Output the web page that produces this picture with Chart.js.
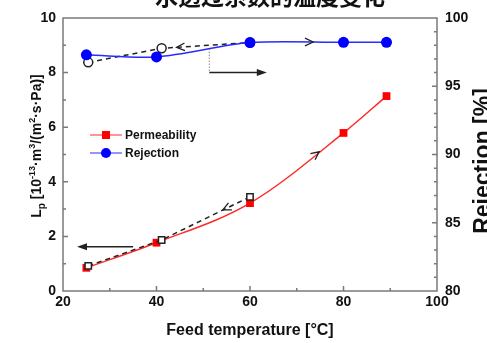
<!DOCTYPE html>
<html>
<head>
<meta charset="utf-8">
<script src="https://cdn.jsdelivr.net/npm/chart.js@4.4.1/dist/chart.umd.min.js"></script>
<style>
  body { margin: 0; background: #fff; }
</style>
</head>
<body>
<canvas id="lpChart" width="487" height="343"></canvas>
<script>
// values
const temperature = [25, 40, 60, 80, 89.2];
const permeability = [0.85, 1.77, 3.22, 5.79, 7.14];
const rejection = [97.3, 97.15, 98.2, 98.22, 98.22];
const coolingTemp = [25.4, 41.1, 60];
const coolingPermeability = [0.92, 1.87, 3.45];
const coolingRejection = [96.75, 97.78, 98.2];
const xTicks = [20, 40, 60, 80, 100];
const lpTicks = [0, 2, 4, 6, 8, 10];
const rejTicks = [80, 85, 90, 95, 100];

const titleText = "水透过系数的温度变化";
const xTitle = "Feed temperature [°C]";
const rightTitle = "Rejection [%]";

const FONT = "Arial, 'Liberation Sans', sans-serif";
const FRAME = "#7a7a7a";

const toPoints = (xs, ys) => xs.map((x, i) => ({ x: x, y: ys[i] }));

// annotation arrows, in data units
const solidArrows = [
  { axis: "y", from: [35, 1.62], to: [23, 1.62] },
  { axis: "y2", from: [51.3, 96.0], to: [63.6, 96.0] },
];
const chevrons = [
  { axis: "y2", at: [73.5, 98.24], toward: [80, 98.24] },
  { axis: "y2", at: [44.3, 97.85], toward: [41.1, 97.78] },
  { axis: "y", at: [74.8, 5.1], toward: [80, 5.79] },
  { axis: "y", at: [54.2, 2.97], toward: [41.1, 1.87] },
];

const fixSize = (prop, size) => (scale) => { scale[prop] = size; };

function drawRich(ctx, parts, x, y) {
  // parts drawn left to right, centered on x
  let total = 0;
  parts.forEach((p) => {
    ctx.font = "bold " + p.size + "px " + FONT;
    p.w = ctx.measureText(p.text).width;
    total += p.w;
  });
  let cx = x - total / 2;
  ctx.textAlign = "left";
  ctx.textBaseline = "alphabetic";
  parts.forEach((p) => {
    ctx.font = "bold " + p.size + "px " + FONT;
    ctx.fillText(p.text, cx, y + (p.dy || 0));
    cx += p.w;
  });
}

const decor = {
  id: "decor",
  beforeDatasetsDraw(chart) {
    const { ctx, chartArea: a, scales } = chart;
    ctx.save();
    ctx.strokeStyle = FRAME;
    ctx.lineWidth = 1.5;
    ctx.strokeRect(a.left, a.top, a.right - a.left, a.bottom - a.top);
    ctx.beginPath();
    for (let v = 30; v < 100; v += 10) {
      const px = scales.x.getPixelForValue(v);
      const len = v % 20 === 0 ? 5 : 3;
      ctx.moveTo(px, a.bottom);
      ctx.lineTo(px, a.bottom - len);
    }
    for (let v = 1; v < 10; v++) {
      const py = scales.y.getPixelForValue(v);
      const len = v % 2 === 0 ? 5 : 3;
      ctx.moveTo(a.left, py);
      ctx.lineTo(a.left + len, py);
    }
    for (let v = 81; v < 100; v++) {
      const py = scales.y2.getPixelForValue(v);
      const len = v % 5 === 0 ? 5 : 3;
      ctx.moveTo(a.right, py);
      ctx.lineTo(a.right - len, py);
    }
    ctx.stroke();
    ctx.restore();
  },
  afterDraw(chart) {
    const { ctx, chartArea: a, scales } = chart;
    const px = (axis, p) => [scales.x.getPixelForValue(p[0]), scales[axis].getPixelForValue(p[1])];
    ctx.save();

    // dotted guide down from the rejection curve
    const d0 = px("y2", [51.3, 97.75]);
    const d1 = px("y2", [51.3, 96.0]);
    ctx.strokeStyle = "#555";
    ctx.lineWidth = 1;
    ctx.setLineDash([1, 2]);
    ctx.beginPath();
    ctx.moveTo(d0[0], d0[1]);
    ctx.lineTo(d1[0], d1[1]);
    ctx.stroke();
    ctx.setLineDash([]);

    // solid arrows pointing to the axis used
    solidArrows.forEach((ar) => {
      const f = px(ar.axis, ar.from);
      const t = px(ar.axis, ar.to);
      const ang = Math.atan2(t[1] - f[1], t[0] - f[0]);
      ctx.strokeStyle = "#222";
      ctx.fillStyle = "#222";
      ctx.lineWidth = 1.5;
      ctx.beginPath();
      ctx.moveTo(f[0], f[1]);
      ctx.lineTo(t[0] - 6 * Math.cos(ang), t[1] - 6 * Math.sin(ang));
      ctx.stroke();
      ctx.beginPath();
      ctx.moveTo(t[0], t[1]);
      ctx.lineTo(t[0] - 10 * Math.cos(ang) - 3.5 * Math.sin(ang), t[1] - 10 * Math.sin(ang) + 3.5 * Math.cos(ang));
      ctx.lineTo(t[0] - 10 * Math.cos(ang) + 3.5 * Math.sin(ang), t[1] - 10 * Math.sin(ang) - 3.5 * Math.cos(ang));
      ctx.closePath();
      ctx.fill();
    });

    // open arrowheads along the curves
    chevrons.forEach((c) => {
      const p = px(c.axis, c.at);
      const q = px(c.axis, c.toward);
      const ang = Math.atan2(q[1] - p[1], q[0] - p[0]);
      ctx.strokeStyle = "#222";
      ctx.lineWidth = 1.3;
      ctx.beginPath();
      ctx.moveTo(p[0] + 9 * Math.cos(ang + 2.7), p[1] + 9 * Math.sin(ang + 2.7));
      ctx.lineTo(p[0], p[1]);
      ctx.lineTo(p[0] + 9 * Math.cos(ang - 2.7), p[1] + 9 * Math.sin(ang - 2.7));
      ctx.stroke();
    });

    // legend inside the plot
    const entries = chart.data.datasets.filter((ds) => ds.inLegend);
    entries.forEach((ds, i) => {
      const y = 135 + i * 18;
      ctx.strokeStyle = ds.legendLine;
      ctx.lineWidth = 1.5;
      ctx.beginPath();
      ctx.moveTo(90, y);
      ctx.lineTo(122, y);
      ctx.stroke();
      ctx.fillStyle = ds.pointBackgroundColor;
      ctx.beginPath();
      if (ds.pointStyle === "rect") ctx.rect(102, y - 4, 8, 8);
      else ctx.arc(106, y, 5, 0, Math.PI * 2);
      ctx.fill();
      ctx.fillStyle = "#111";
      ctx.font = "bold 12px " + FONT;
      ctx.textAlign = "left";
      ctx.textBaseline = "middle";
      ctx.fillText(ds.label, 125, y + 1);
    });

    // titles
    ctx.fillStyle = "#111";
    ctx.font = "bold 16px " + FONT;
    ctx.textAlign = "center";
    ctx.textBaseline = "middle";
    ctx.fillText(xTitle, (a.left + a.right) / 2, 331);

    ctx.save();
    ctx.translate(41, 146);
    ctx.rotate(-Math.PI / 2);
    drawRich(ctx, [
      { text: "L", size: 14 },
      { text: "p", size: 10, dy: 4 },
      { text: " [10", size: 14 },
      { text: "-13", size: 9, dy: -6 },
      { text: "·m", size: 14 },
      { text: "3", size: 9, dy: -6 },
      { text: "/(m", size: 14 },
      { text: "2", size: 9, dy: -6 },
      { text: "·s·Pa)]", size: 14 },
    ], 0, 0);
    ctx.restore();

    ctx.save();
    ctx.translate(490, 161);
    ctx.rotate(-Math.PI / 2);
    ctx.font = "bold 23px " + FONT;
    ctx.textAlign = "center";
    ctx.textBaseline = "alphabetic";
    ctx.fillText(rightTitle, 0, 0);
    ctx.restore();

    ctx.font = "bold 23px 'Noto Sans CJK SC', sans-serif";
    ctx.textAlign = "center";
    ctx.textBaseline = "ideographic";
    ctx.fillText(titleText, 270, 8);

    ctx.restore();
  },
};

const tickFont = { family: FONT, size: 14, weight: "bold" };

new Chart(document.getElementById("lpChart").getContext("2d"), {
  type: "scatter",
  data: {
    datasets: [
      {
        label: "Cooling Lp",
        data: toPoints(coolingTemp, coolingPermeability),
        yAxisID: "y",
        showLine: true,
        borderColor: "#222",
        borderWidth: 1.5,
        borderDash: [5, 4],
        pointStyle: "rect",
        pointRadius: 4.5,
        pointBackgroundColor: "#fff",
        pointBorderColor: "#222",
        pointBorderWidth: 1.5,
        order: 0,
      },
      {
        label: "Permeability",
        inLegend: true,
        legendLine: "#ff7070",
        data: toPoints(temperature, permeability),
        yAxisID: "y",
        showLine: true,
        cubicInterpolationMode: "monotone",
        borderColor: "#ff2a2a",
        borderWidth: 1.5,
        pointStyle: "rect",
        pointRadius: 5.5,
        pointBackgroundColor: "#ff0000",
        pointBorderColor: "#ff0000",
        pointBorderWidth: 0,
        order: 1,
      },
      {
        label: "Rejection",
        inLegend: true,
        legendLine: "#7070ff",
        data: toPoints(temperature, rejection),
        yAxisID: "y2",
        showLine: true,
        tension: 0.3,
        borderColor: "#2a2aff",
        borderWidth: 1.5,
        pointStyle: "circle",
        pointRadius: 5.5,
        pointBackgroundColor: "#0000ff",
        pointBorderColor: "#0000ff",
        pointBorderWidth: 0,
        order: 2,
      },
      {
        label: "Cooling rejection",
        data: toPoints(coolingTemp, coolingRejection),
        yAxisID: "y2",
        showLine: true,
        borderColor: "#222",
        borderWidth: 1.5,
        borderDash: [5, 4],
        pointStyle: "circle",
        pointRadius: 4.5,
        pointBackgroundColor: "#fff",
        pointBorderColor: "#222",
        pointBorderWidth: 1.5,
        order: 3,
      },
    ],
  },
  options: {
    responsive: false,
    animation: false,
    layout: { padding: { top: 18, left: 0, right: 0, bottom: 0 } },
    plugins: { legend: { display: false }, tooltip: { enabled: false } },
    scales: {
      x: {
        type: "linear",
        min: 20,
        max: 100,
        afterFit: fixSize("height", 52),
        afterBuildTicks: (s) => { s.ticks = xTicks.map((v) => ({ value: v })); },
        grid: { display: false, drawTicks: false },
        border: { display: false },
        ticks: { font: tickFont, color: "#111", padding: 3, autoSkip: false, maxRotation: 0 },
      },
      y: {
        position: "left",
        min: 0,
        max: 10,
        afterFit: fixSize("width", 63),
        afterBuildTicks: (s) => { s.ticks = lpTicks.map((v) => ({ value: v })); },
        grid: { display: false, drawTicks: false },
        border: { display: false },
        ticks: { font: tickFont, color: "#111", padding: 7 },
      },
      y2: {
        position: "right",
        min: 80,
        max: 100,
        afterFit: fixSize("width", 50),
        afterBuildTicks: (s) => { s.ticks = rejTicks.map((v) => ({ value: v })); },
        grid: { display: false, drawTicks: false },
        border: { display: false },
        ticks: { font: tickFont, color: "#111", padding: 8 },
      },
    },
  },
  plugins: [decor],
});
</script>
</body>
</html>
